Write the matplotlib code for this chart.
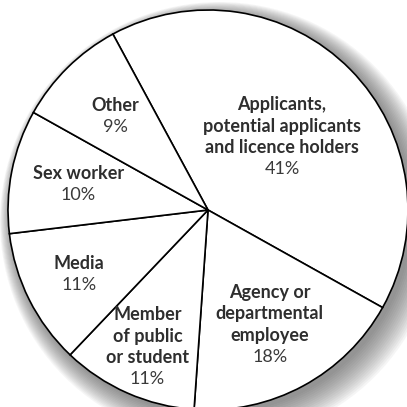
import numpy as np
import matplotlib
matplotlib.use('Agg')
import matplotlib.pyplot as plt
from matplotlib.patches import Circle

# slice data, clockwise from the upper left
labels = ['Applicants,\npotential applicants\nand licence holders',
          'Agency or\ndepartmental\nemployee',
          'Member\nof public\nor student',
          'Media',
          'Sex worker',
          'Other']
shares = [41, 18, 11, 11, 10, 9]
pct_labels = ['41%', '18%', '11%', '11%', '10%', '9%']
# radial position of each text block, as a fraction of the radius
label_r = [0.52, 0.65, 0.75, 0.72, 0.66, 0.66]

R = 200.0
LINE = 21.5
TXT = '#2e2e2e'

plt.rcParams['font.family'] = ['Lato', 'DejaVu Sans']

fig = plt.figure(figsize=(4.07, 4.07), dpi=100)
ax = fig.add_axes([0, 0, 1, 1])

wedges, _ = ax.pie(shares, radius=R, startangle=118.4, counterclock=False,
                   wedgeprops=dict(facecolor='white', edgecolor='black',
                                   linewidth=1.2),
                   normalize=True)
for w in wedges:
    w.set_zorder(2)

# soft drop shadow, bottom right
for i in range(16):
    ax.add_patch(Circle((4 + i * 0.5, -4 - i * 0.5), R + i * 1.3,
                        facecolor='#4a4a4a', edgecolor='none',
                        alpha=0.05, zorder=0))

ax.set_aspect('equal')
ax.set_xlim(-208, 199)
ax.set_ylim(-197, 210)
ax.axis('off')

for w, lab, pct, fr in zip(wedges, labels, pct_labels, label_r):
    mid = np.deg2rad((w.theta1 + w.theta2) / 2)
    cx = fr * R * np.cos(mid)
    cy = fr * R * np.sin(mid)
    lines = lab.split('\n')
    n = len(lines) + 1
    top = cy + (n - 1) / 2 * LINE
    for i, ln in enumerate(lines):
        ax.text(cx, top - i * LINE, ln, ha='center', va='center',
                fontsize=13, fontweight='bold', color=TXT, zorder=3)
    ax.text(cx, top - len(lines) * LINE, pct, ha='center', va='center',
            fontsize=13, color='#3a3a3a', zorder=3)

fig.savefig('out.png', dpi=100, facecolor='white')
